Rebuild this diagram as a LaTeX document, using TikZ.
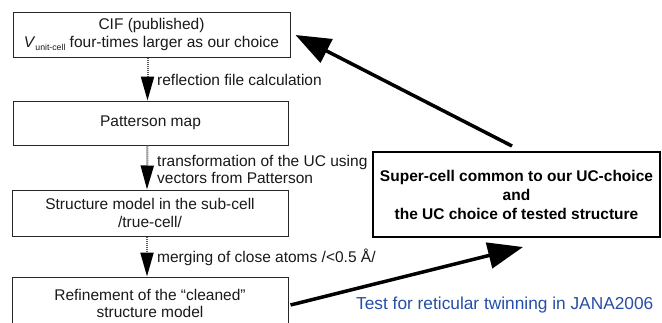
\documentclass[tikz,border=0pt]{standalone}
\usepackage{fontspec}
\setmainfont{Liberation Sans}
\usetikzlibrary{arrows.meta}
\definecolor{jblue}{RGB}{38,78,168}
\begin{document}
\begin{tikzpicture}[x=1pt,y=-1pt,
  box/.style={draw=black!85, line width=1pt, rectangle, align=center, inner sep=0pt,
    text=black!90, font=\fontsize{15.5}{17.5}\selectfont},
  lbl/.style={anchor=west, align=left, inner sep=0pt, text=black!90,
    font=\fontsize{15.5}{17.5}\selectfont},
  dotarrow/.style={draw=black!65, line width=2pt, dash pattern=on 1.2pt off 0.8pt,
    -{Triangle[length=24pt,width=13pt,color=black]}},
  bigarrow/.style={draw=black, line width=3.5pt, -{Triangle[length=35pt,width=26pt]}},
  scbox/.style={draw=black, line width=2pt, rectangle, align=center, inner sep=0pt,
    font=\fontsize{15.5}{19}\selectfont\bfseries}
]
\useasboundingbox (0,0) rectangle (662,322);
\fill[white] (0,0) rectangle (662,322);
\begin{scope}
\clip (0,0) rectangle (662,322);
\node[box, minimum width=277pt, minimum height=45pt] (b1) at (151.5,34.5)
  {CIF (published)\\\textit{V}\raisebox{-3.5pt}{\fontsize{8.7}{9}\selectfont unit-cell} four-times larger as our choice};
\node[box, minimum width=275pt, minimum height=44pt] (b2) at (150.5,123) {Patterson map};
\node[box, minimum width=276pt, minimum height=46pt] (b3) at (150,213)
  {Structure model in the sub-cell\\/true-cell/};
\node[box, minimum width=276pt, minimum height=53pt] (b4) at (150,303.5)
  {Refinement of the “cleaned”\\structure model};
\node[scbox, minimum width=287pt, minimum height=85pt] (sc) at (516.5,194.5)
  {Super-cell common to our UC-choice\\and\\the UC choice of tested structure};

\draw[dotarrow] ([xshift=-4pt]b1.south) -- ([xshift=-3pt]b2.north);
\draw[dotarrow] ([xshift=-3pt]b2.south) -- ([xshift=-3pt]b3.north);
\draw[dotarrow] ([xshift=-3pt]b3.south) -- ([xshift=-3pt]b4.north);

\node[lbl] (l1) at (157,80) {reflection file calculation};
\node[lbl] (l2) at (157,169.5) {transformation of the UC using\\vectors from Patterson};
\node[lbl] (l3) at (157,257) {merging of close atoms /<0.5 Å/};

\draw[bigarrow] ([shift={(-4.5,-5)}]sc.north) -- ([shift={(5,0.5)}]b1.east);
\draw[bigarrow] ([xshift=2pt,yshift=-1.5pt]b4.east) -- ([shift={(6.5,9)}]sc.south);

\node[anchor=base west, inner sep=0pt, text=jblue, font=\fontsize{17.3}{19}\selectfont] (t) at (356,309.5)
  {Test for reticular twinning in JANA2006};
\end{scope}
\end{tikzpicture}
\end{document}
